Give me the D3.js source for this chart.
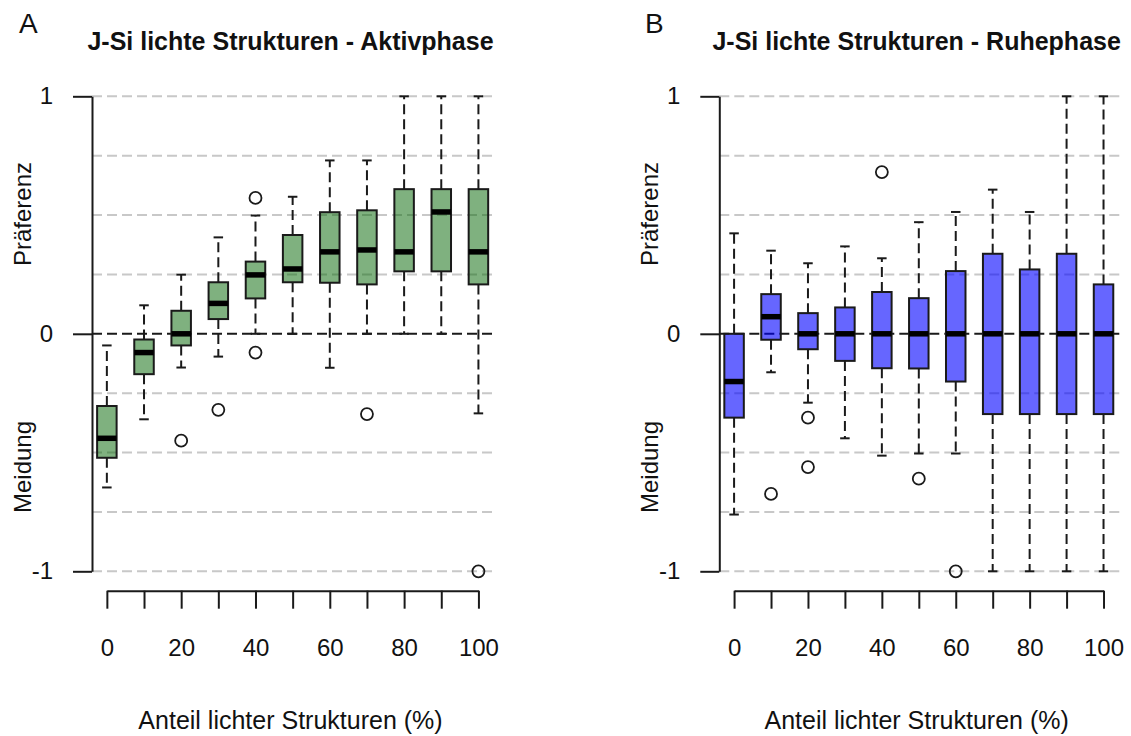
<!DOCTYPE html>
<html>
<head>
<meta charset="utf-8">
<script src="https://cdn.jsdelivr.net/npm/d3@7"></script>
<style>
  html, body { margin: 0; padding: 0; background: #fff; }
  svg { display: block; font-family: "Liberation Sans", Arial, sans-serif; }
</style>
</head>
<body>
<svg id="chart" width="1131" height="736"></svg>
<script>
// Share of light structures (%), one box per class
const categories = [0, 10, 20, 30, 40, 50, 60, 70, 80, 90, 100];

// Panel A: active phase – box statistics per class
const aktivLow  = [-0.647, -0.36, -0.142, -0.096, 0, 0, -0.143, 0, 0, 0, -0.335];
const aktivQ1   = [-0.522, -0.17, -0.049, 0.062, 0.149, 0.217, 0.215, 0.208, 0.263, 0.263, 0.208];
const aktivMed  = [-0.44, -0.079, 0, 0.128, 0.248, 0.273, 0.345, 0.353, 0.345, 0.513, 0.345];
const aktivQ3   = [-0.304, -0.024, 0.097, 0.217, 0.304, 0.416, 0.512, 0.52, 0.609, 0.609, 0.609];
const aktivHigh = [-0.049, 0.12, 0.249, 0.406, 0.498, 0.577, 0.73, 0.73, 1, 1, 1];
const aktivOutCat = [20, 30, 40, 40, 70, 100];
const aktivOutVal = [-0.45, -0.32, 0.572, -0.079, -0.338, -1];

// Panel B: resting phase – box statistics per class
const ruheLow  = [-0.761, -0.162, -0.29, -0.44, -0.513, -0.504, -0.504, -1, -1, -1, -1];
const ruheQ1   = [-0.353, -0.025, -0.065, -0.114, -0.145, -0.146, -0.201, -0.338, -0.338, -0.338, -0.338];
const ruheMed  = [-0.201, 0.072, 0, 0, 0, 0, 0, 0, 0, 0, 0];
const ruheQ3   = [0, 0.167, 0.087, 0.111, 0.176, 0.15, 0.264, 0.337, 0.271, 0.337, 0.208];
const ruheHigh = [0.423, 0.35, 0.297, 0.368, 0.318, 0.47, 0.513, 0.607, 0.513, 1, 1];
const ruheOutCat = [10, 20, 20, 40, 50, 60];
const ruheOutVal = [-0.674, -0.353, -0.561, 0.681, -0.61, -1];

const yTicks = [-1, 0, 1];
const yTickLabels = ["-1", "0", "1"];
const gridValues = [-1, -0.75, -0.5, -0.25, 0.25, 0.5, 0.75, 1];
const xLabelEvery = 2;

const panels = [
  { letter: "A", title: "J-Si lichte Strukturen - Aktivphase",
    low: aktivLow, q1: aktivQ1, med: aktivMed, q3: aktivQ3, high: aktivHigh,
    outCat: aktivOutCat, outVal: aktivOutVal,
    fill: "rgba(0,100,0,0.5)", left: 92, right: 497, letterX: 19 },
  { letter: "B", title: "J-Si lichte Strukturen - Ruhephase",
    low: ruheLow, q1: ruheQ1, med: ruheMed, q3: ruheQ3, high: ruheHigh,
    outCat: ruheOutCat, outVal: ruheOutVal,
    fill: "rgba(0,0,255,0.6)", left: 719.3, right: 1122, letterX: 645 }
];

const svg = d3.select("#chart");
const ink = "#1a1a1a";
const yTop = 96.3, yBottom = 571.3, xAxisY = 590.7;
const boxW = 19.5, stapleW = 9.5;

panels.forEach(p => {
  const g = svg.append("g");
  const x = d3.scaleLinear().domain([0.6, 11.5]).range([p.left, p.right]);
  const y = d3.scaleLinear().domain([-1, 1]).range([yBottom, yTop]);
  const pos = i => x(i + 1);

  // horizontal reference lines
  g.selectAll("line.grid").data(gridValues).join("line")
    .attr("x1", p.left).attr("x2", p.right)
    .attr("y1", d => y(d)).attr("y2", d => y(d))
    .attr("stroke", "#c8c8c8").attr("stroke-width", 2)
    .attr("stroke-dasharray", "10,5");
  g.append("line")
    .attr("x1", p.left).attr("x2", p.right)
    .attr("y1", y(0)).attr("y2", y(0))
    .attr("stroke", ink).attr("stroke-width", 2)
    .attr("stroke-dasharray", "10,5");

  const idx = d3.range(categories.length);

  // whiskers
  g.selectAll("line.wu").data(idx).join("line")
    .attr("x1", pos).attr("x2", pos)
    .attr("y1", i => y(p.q3[i])).attr("y2", i => y(p.high[i]))
    .attr("stroke", ink).attr("stroke-width", 2).attr("stroke-dasharray", "10,5");
  g.selectAll("line.wl").data(idx).join("line")
    .attr("x1", pos).attr("x2", pos)
    .attr("y1", i => y(p.q1[i])).attr("y2", i => y(p.low[i]))
    .attr("stroke", ink).attr("stroke-width", 2).attr("stroke-dasharray", "10,5");

  // staples
  [p.high, p.low].forEach(arr => {
    g.selectAll(null).data(idx).join("line")
      .attr("x1", i => pos(i) - stapleW / 2).attr("x2", i => pos(i) + stapleW / 2)
      .attr("y1", i => y(arr[i])).attr("y2", i => y(arr[i]))
      .attr("stroke", ink).attr("stroke-width", 2);
  });

  // boxes
  g.selectAll("rect.box").data(idx).join("rect")
    .attr("x", i => pos(i) - boxW / 2).attr("width", boxW)
    .attr("y", i => y(p.q3[i])).attr("height", i => y(p.q1[i]) - y(p.q3[i]))
    .attr("fill", p.fill).attr("stroke", ink).attr("stroke-width", 2);

  // medians
  g.selectAll("line.med").data(idx).join("line")
    .attr("x1", i => pos(i) - boxW / 2).attr("x2", i => pos(i) + boxW / 2)
    .attr("y1", i => y(p.med[i])).attr("y2", i => y(p.med[i]))
    .attr("stroke", "#000").attr("stroke-width", 5.5);

  // outliers
  g.selectAll("circle.out").data(d3.range(p.outCat.length)).join("circle")
    .attr("cx", j => pos(categories.indexOf(p.outCat[j])))
    .attr("cy", j => y(p.outVal[j]))
    .attr("r", 6).attr("fill", "none").attr("stroke", ink).attr("stroke-width", 1.8);

  // y axis
  const yAxis = d3.axisLeft(y).tickValues(yTicks).tickSize(19).tickSizeOuter(0)
    .tickPadding(20).tickFormat((d, i) => yTickLabels[i]);
  const ya = g.append("g").attr("transform", `translate(${p.left},0)`).call(yAxis);
  ya.select(".domain").attr("stroke", ink).attr("stroke-width", 2);
  ya.selectAll(".tick line").attr("stroke", ink).attr("stroke-width", 2);
  ya.selectAll(".tick text").attr("font-size", 24).attr("fill", "#111")
    .attr("font-family", "Liberation Sans, Arial, sans-serif");

  // x axis (line spans first to last box)
  const xb = d3.scaleLinear().domain([1, categories.length]).range([pos(0), pos(categories.length - 1)]);
  const xAxis = d3.axisBottom(xb).tickValues(idx.map(i => i + 1)).tickSize(18).tickSizeOuter(0)
    .tickPadding(30).tickFormat((d, i) => i % xLabelEvery === 0 ? categories[i] : "");
  const xa = g.append("g").attr("transform", `translate(0,${xAxisY})`).call(xAxis);
  xa.select(".domain").attr("stroke", ink).attr("stroke-width", 2);
  xa.selectAll(".tick line").attr("stroke", ink).attr("stroke-width", 2);
  xa.selectAll(".tick text").attr("font-size", 24).attr("fill", "#111")
    .attr("font-family", "Liberation Sans, Arial, sans-serif");

  const cx = (p.left + p.right) / 2 - 4;

  // titles and labels
  g.append("text").attr("x", cx).attr("y", 50).attr("text-anchor", "middle")
    .attr("font-size", 25).attr("font-weight", "bold").attr("fill", "#111").text(p.title);
  g.append("text").attr("x", p.letterX).attr("y", 33)
    .attr("font-size", 28).attr("fill", "#111").text(p.letter);
  g.append("text").attr("x", cx).attr("y", 729).attr("text-anchor", "middle")
    .attr("font-size", 25).attr("fill", "#111").text("Anteil lichter Strukturen (%)");

  const lx = p.left - 70;
  [["Präferenz", 214], ["Meidung", 467]].forEach(([t, cy]) => {
    g.append("text").attr("transform", `translate(${lx},${cy}) rotate(-90)`)
      .attr("text-anchor", "middle").attr("dominant-baseline", "central")
      .attr("font-size", 24).attr("fill", "#111").text(t);
  });
});
</script>
</body>
</html>
